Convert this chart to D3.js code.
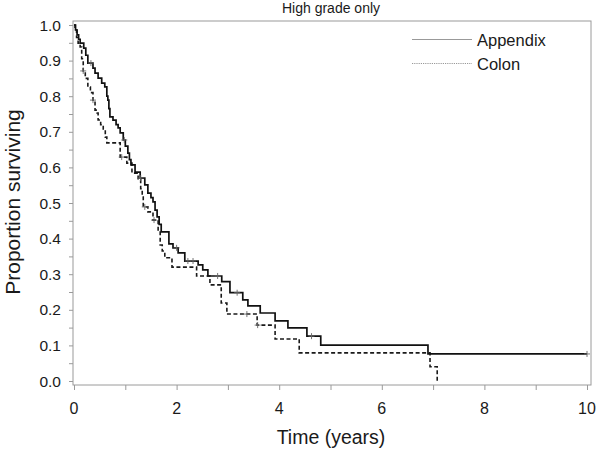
<!DOCTYPE html>
<html>
<head>
<meta charset="utf-8">
<script src="https://cdn.jsdelivr.net/npm/d3@7"></script>
<style>
  html, body { margin: 0; padding: 0; background: #fff; }
  svg { display: block; font-family: "Liberation Sans", Arial, Helvetica, sans-serif; }
</style>
</head>
<body>
<svg id="chart" width="602" height="453"></svg>
<script>
// ---- Data ----
const title = "High grade only";
const xLabel = "Time (years)";
const yLabel = "Proportion surviving";
const seriesNames = ["Appendix", "Colon"];

// Appendix: Kaplan-Meier step (time, survival from that time on)
const appendixTime = [0, 0.03, 0.06, 0.09, 0.12, 0.19, 0.23, 0.27, 0.37, 0.41, 0.47, 0.54, 0.60, 0.64, 0.66, 0.68, 0.70, 0.76, 0.82, 0.86, 0.90, 0.96, 1.00, 1.05, 1.08, 1.11, 1.19, 1.29, 1.38, 1.44, 1.50, 1.54, 1.58, 1.62, 1.66, 1.70, 1.85, 1.93, 2.03, 2.16, 2.42, 2.51, 2.61, 2.88, 3.04, 3.29, 3.39, 3.63, 3.92, 4.17, 4.54, 4.81, 6.90];
const appendixSurv = [1.0, 0.986, 0.972, 0.960, 0.949, 0.935, 0.915, 0.893, 0.879, 0.865, 0.851, 0.837, 0.826, 0.800, 0.789, 0.765, 0.742, 0.733, 0.720, 0.711, 0.697, 0.677, 0.660, 0.640, 0.622, 0.607, 0.587, 0.570, 0.551, 0.528, 0.515, 0.503, 0.480, 0.461, 0.440, 0.419, 0.385, 0.374, 0.360, 0.337, 0.326, 0.312, 0.295, 0.279, 0.248, 0.228, 0.211, 0.191, 0.169, 0.149, 0.126, 0.101, 0.076];
const appendixEnd = 10;
const appendixCensor = [0.33, 0.98, 1.30, 2.00, 2.22, 2.32, 2.80, 3.18, 4.63, 10];

// Colon
const colonTime = [0, 0.02, 0.05, 0.08, 0.12, 0.15, 0.18, 0.22, 0.27, 0.32, 0.37, 0.41, 0.45, 0.47, 0.52, 0.57, 0.61, 0.64, 0.90, 1.03, 1.13, 1.25, 1.30, 1.33, 1.35, 1.44, 1.54, 1.64, 1.68, 1.72, 1.77, 1.91, 2.39, 2.65, 2.87, 2.98, 3.57, 3.92, 4.39, 6.94, 7.08];
const colonSurv = [1.0, 0.986, 0.965, 0.949, 0.938, 0.905, 0.871, 0.850, 0.826, 0.810, 0.789, 0.761, 0.753, 0.733, 0.720, 0.705, 0.685, 0.669, 0.629, 0.612, 0.584, 0.565, 0.540, 0.517, 0.489, 0.475, 0.452, 0.424, 0.382, 0.365, 0.346, 0.320, 0.295, 0.270, 0.219, 0.188, 0.157, 0.118, 0.079, 0.040, 0.0];
const colonEnd = 7.08;
const colonCensor = [0.18, 0.37, 0.93, 1.38, 1.56, 3.37, 3.58];

const xTicks = [0, 1, 2, 3, 4, 5, 6, 7, 8, 9, 10];
const xTickLabels = [0, 2, 4, 6, 8, 10];
const yTicks = d3.range(0, 21).map(i => i * 0.05);
const yTickLabels = [0, 0.1, 0.2, 0.3, 0.4, 0.5, 0.6, 0.7, 0.8, 0.9, 1.0];

// ---- Layout ----
const svg = d3.select("#chart");
const frame = { left: 73, right: 591, top: 21, bottom: 385 };
const x = d3.scaleLinear().domain([0, 10]).range([74, 587]);
const y = d3.scaleLinear().domain([0, 1]).range([381, 25]);
const axisColor = "#9a9a9a";
const textColor = "#1a1a1a";

// frame
svg.append("rect")
  .attr("x", frame.left).attr("y", frame.top)
  .attr("width", frame.right - frame.left).attr("height", frame.bottom - frame.top)
  .attr("fill", "none").attr("stroke", axisColor).attr("stroke-width", 1);

// x ticks
const xAxisG = svg.append("g").attr("transform", `translate(0,${frame.bottom})`);
xAxisG.call(d3.axisBottom(x).tickValues(xTicks).tickSize(5).tickFormat(""));
xAxisG.select(".domain").remove();
xAxisG.selectAll("line").attr("stroke", axisColor);
svg.append("g").selectAll("text").data(xTickLabels).join("text")
  .attr("x", d => x(d)).attr("y", 414)
  .attr("text-anchor", "middle").attr("font-size", 16).attr("fill", textColor)
  .text(d => d);

// y ticks
const yAxisG = svg.append("g").attr("transform", `translate(${frame.left},0)`);
yAxisG.call(d3.axisLeft(y).tickValues(yTicks).tickSize(4).tickFormat(""));
yAxisG.select(".domain").remove();
yAxisG.selectAll("line").attr("stroke", axisColor);
svg.append("g").selectAll("text").data(yTickLabels).join("text")
  .attr("x", 61).attr("y", d => y(d)).attr("dy", "0.36em")
  .attr("text-anchor", "end").attr("font-size", 15.5).attr("fill", textColor)
  .text(d => d3.format(".1f")(d));

// labels
svg.append("text").attr("x", 331).attr("y", 13).attr("text-anchor", "middle")
  .attr("font-size", 14).attr("fill", textColor).text(title);
svg.append("text").attr("x", 331).attr("y", 444).attr("text-anchor", "middle")
  .attr("font-size", 19.5).attr("fill", textColor).text(xLabel);
svg.append("text").attr("transform", `translate(20,202) rotate(-90)`).attr("text-anchor", "middle")
  .attr("font-size", 21).attr("fill", textColor).text(yLabel);

// curves
function stepPoints(times, surv, end) {
  const pts = times.map((t, i) => [t, surv[i]]);
  pts.push([end, surv[surv.length - 1]]);
  return pts;
}
function survAt(times, surv, t) {
  let v = surv[0];
  for (let i = 0; i < times.length; i++) if (times[i] <= t) v = surv[i];
  return v;
}
const line = d3.line().x(d => x(d[0])).y(d => y(d[1])).curve(d3.curveStepAfter);

svg.append("path").datum(stepPoints(colonTime, colonSurv, colonEnd))
  .attr("d", line).attr("fill", "none").attr("stroke", "#1a1a1a")
  .attr("stroke-width", 1.6).attr("stroke-dasharray", "4,2.5");
svg.append("path").datum(stepPoints(appendixTime, appendixSurv, appendixEnd))
  .attr("d", line).attr("fill", "none").attr("stroke", "#111")
  .attr("stroke-width", 1.7);

// censor marks
function censor(times, surv, censorTimes) {
  const g = svg.append("g").attr("stroke", "#666").attr("stroke-width", 0.9);
  censorTimes.forEach(t => {
    const cx = x(t), cy = y(survAt(times, surv, t));
    g.append("line").attr("x1", cx).attr("x2", cx).attr("y1", cy - 3).attr("y2", cy + 3);
    g.append("line").attr("x1", cx - 3).attr("x2", cx + 3).attr("y1", cy).attr("y2", cy);
  });
}
censor(appendixTime, appendixSurv, appendixCensor);
censor(colonTime, colonSurv, colonCensor);

// legend
const legend = svg.append("g");
legend.append("line").attr("x1", 412).attr("x2", 472).attr("y1", 39.5).attr("y2", 39.5)
  .attr("stroke", "#999").attr("stroke-width", 1.2);
legend.append("line").attr("x1", 412).attr("x2", 472).attr("y1", 63.5).attr("y2", 63.5)
  .attr("stroke", "#999").attr("stroke-width", 1).attr("stroke-dasharray", "1.2,1");
legend.append("text").attr("x", 477).attr("y", 45.5).attr("font-size", 16.5).attr("fill", textColor).text(seriesNames[0]);
legend.append("text").attr("x", 477).attr("y", 69.5).attr("font-size", 16.5).attr("fill", textColor).text(seriesNames[1]);
</script>
</body>
</html>
